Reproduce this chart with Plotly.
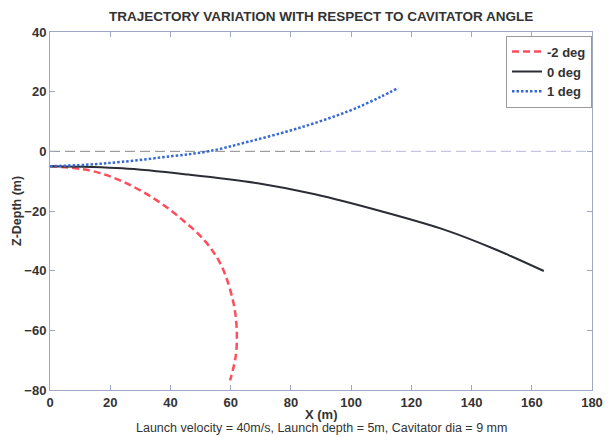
import plotly.graph_objects as go

# Trajectory samples (X in m, Z-depth in m) for each cavitator angle
x_m2 = [0, 13.2, 24.1, 35.1, 43.9, 51.5, 57.0, 60.9, 62.0, 61.7, 59.8]
z_m2 = [-5, -6.4, -10.1, -16.2, -22.9, -30.1, -38.5, -50.7, -59.6, -68.5, -76.8]

x_0 = [0, 24, 46, 69, 88, 110, 131.6, 148, 164]
z_0 = [-5, -5.7, -7.8, -10.7, -14.4, -20.1, -26.5, -32.9, -40.1]

x_p1 = [0, 12, 24, 40.6, 52.6, 65.8, 82.3, 98.7, 109.7, 115.7]
z_p1 = [-5, -4.5, -3.5, -1.6, 0, 3.2, 7.7, 13.3, 18.2, 21.3]

series_names = ["-2 deg", "0 deg", "1 deg"]

x_range = [0, 180]
y_range = [-80, 40]
x_ticks = [0, 20, 40, 60, 80, 100, 120, 140, 160, 180]
y_ticks = [-80, -60, -40, -20, 0, 20, 40]

axis_col = "#9ea8c6"
text_col = "#333333"
font_family = "Liberation Sans, Arial, sans-serif"

fig = go.Figure()

# Reference line at zero depth
fig.add_trace(go.Scatter(x=[0, 90], y=[0, 0], mode="lines",
                         line=dict(color="#8a8a8a", width=1, dash="10px,5px"),
                         showlegend=False, hoverinfo="skip"))
fig.add_trace(go.Scatter(x=[90, 180], y=[0, 0], mode="lines",
                         line=dict(color="#c4c6e0", width=1.2, dash="10px,5px"),
                         showlegend=False, hoverinfo="skip"))

fig.add_trace(go.Scatter(x=x_m2, y=z_m2, mode="lines", name=series_names[0],
                         line=dict(color="#ff4d5e", width=2.5, dash="7px,4px", shape="spline")))
fig.add_trace(go.Scatter(x=x_0, y=z_0, mode="lines", name=series_names[1],
                         line=dict(color="#2a2d33", width=2, shape="spline")))
fig.add_trace(go.Scatter(x=x_p1, y=z_p1, mode="lines", name=series_names[2],
                         line=dict(color="#3569d6", width=2.5, dash="2.5px,2px", shape="spline")))

axis_common = dict(
    showgrid=False, zeroline=False, showline=True, linecolor=axis_col, linewidth=1,
    mirror="ticks", ticks="inside", ticklen=5, tickcolor=axis_col,
    tickfont=dict(family=font_family, size=13, color=text_col, weight="bold"),
)

fig.update_xaxes(range=x_range, tickvals=x_ticks, **axis_common)
fig.update_yaxes(range=y_range, tickvals=y_ticks, **axis_common)

fig.update_layout(
    width=615, height=437,
    margin=dict(l=50, r=18, t=32, b=47),
    paper_bgcolor="white", plot_bgcolor="white",
    showlegend=True,
    legend=dict(
        x=1, y=0.99, xanchor="right", yanchor="top",
        bgcolor="white", bordercolor="#9a9a9a", borderwidth=1,
        font=dict(family=font_family, size=13, color=text_col, weight="bold"),
        tracegroupgap=0, itemwidth=30,
    ),
    annotations=[
        dict(text="<b>TRAJECTORY VARIATION WITH RESPECT TO CAVITATOR ANGLE</b>",
             xref="paper", yref="paper", x=0.5, y=1, yshift=16, showarrow=False,
             xanchor="center", yanchor="middle",
             font=dict(family=font_family, size=13.5, color=text_col)),
        dict(text="<b>X (m)</b>", xref="paper", yref="paper", x=0.5, y=0, yshift=-24,
             showarrow=False, xanchor="center", yanchor="middle",
             font=dict(family=font_family, size=13, color=text_col)),
        dict(text="Launch velocity = 40m/s, Launch depth = 5m, Cavitator dia = 9 mm",
             xref="paper", yref="paper", x=0.5, y=0, yshift=-38,
             showarrow=False, xanchor="center", yanchor="middle",
             font=dict(family=font_family, size=12.5, color=text_col)),
        dict(text="<b>Z-Depth (m)</b>", xref="paper", yref="paper", x=0, xshift=-33, y=0.5,
             textangle=-90, showarrow=False, xanchor="center", yanchor="middle",
             font=dict(family=font_family, size=12.5, color=text_col)),
    ],
)

fig.write_html("out.html")
